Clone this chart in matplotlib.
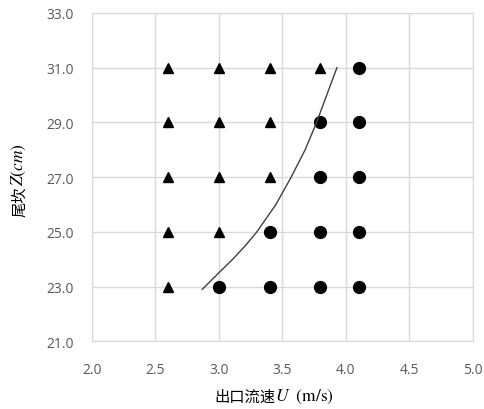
import matplotlib
matplotlib.use('Agg')
import matplotlib.pyplot as plt
from matplotlib.offsetbox import TextArea, HPacker, AnchoredOffsetbox

plt.rcParams['mathtext.fontset'] = 'stix'

# DATA
#===========================================================================
# triangles (upper-left region)
tri_x = [2.6, 2.6, 2.6, 2.6, 2.6, 3.0, 3.0, 3.0, 3.0, 3.4, 3.4, 3.4, 3.8]
tri_y = [23, 25, 27, 29, 31, 25, 27, 29, 31, 27, 29, 31, 31]

# circles (lower-right region)
dot_x = [3.0, 3.4, 3.4, 3.8, 3.8, 3.8, 3.8, 4.1, 4.1, 4.1, 4.1, 4.1]
dot_y = [23, 23, 25, 23, 25, 27, 29, 23, 25, 27, 29, 31]

# boundary curve
curve_x = [2.87, 3.00, 3.11, 3.21, 3.30, 3.45, 3.57, 3.68, 3.77, 3.85, 3.93]
curve_y = [22.9, 23.5, 24.0, 24.5, 25.0, 26.0, 27.0, 28.0, 29.0, 30.0, 31.0]

x_ticks = [2.0, 2.5, 3.0, 3.5, 4.0, 4.5, 5.0]
y_ticks = [21.0, 23.0, 25.0, 27.0, 29.0, 31.0, 33.0]

# PLOT
#===========================================================================
fig = plt.figure(figsize=(4.85, 4.10), dpi=100)
ax = fig.add_axes([0.189, 0.165, 0.786, 0.801])

ax.plot(tri_x, tri_y, linestyle='none', marker='^', color='black', markersize=7.5)
ax.plot(dot_x, dot_y, linestyle='none', marker='o', color='black', markersize=8.5)
ax.plot(curve_x, curve_y, color='#404040', linewidth=1.0)

ax.set_xlim(2.0, 5.0)
ax.set_ylim(21.0, 33.0)
ax.set_xticks(x_ticks)
ax.set_yticks(y_ticks)
ax.set_xticklabels([f'{v:.1f}' for v in x_ticks])
ax.set_yticklabels([f'{v:.1f}' for v in y_ticks])
ax.tick_params(length=0, labelsize=10, colors='#595959',
               labelfontfamily='Open Sans')
ax.tick_params(axis='x', pad=15)
ax.tick_params(axis='y', pad=13)

ax.grid(True, color='#d9d9d9', linewidth=1.0)
ax.set_axisbelow(True)
for s in ax.spines.values():
    s.set_color('#d9d9d9')

# AXIS LABELS (CJK part + math part)
#===========================================================================
cjk = dict(family='Noto Sans CJK SC', size=11, color='black')
mth = dict(size=12.5, color='black')

# x label
xl = HPacker(children=[TextArea('出口流速', textprops=cjk),
                       TextArea(r'$U\ \ \mathrm{(m/s)}$', textprops=mth)],
             align='baseline', pad=0, sep=0)
box = AnchoredOffsetbox(loc='center', child=xl, pad=0, frameon=False,
                        bbox_to_anchor=(0.565, 0.032),
                        bbox_transform=fig.transFigure, borderpad=0)
fig.add_artist(box)

# y label
t1 = fig.text(0.058, 0.471, '尾坎', rotation=90, ha='right', va='bottom', **cjk)
ax.annotate(r'$Z(cm)$', xy=(1, 1), xycoords=t1, rotation=90,
            ha='right', va='bottom', annotation_clip=False, **mth)

fig.savefig('out.png', dpi=100)
